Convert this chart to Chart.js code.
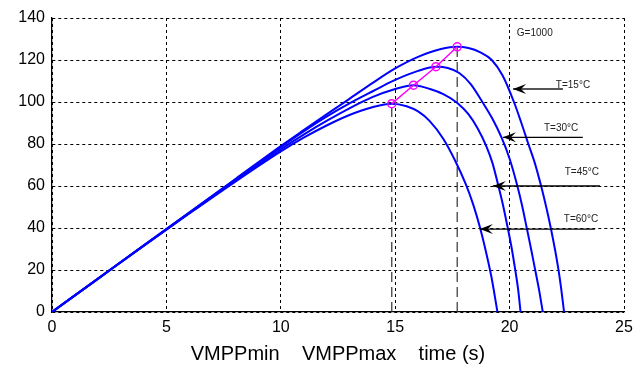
<!DOCTYPE html>
<html>
<head>
  <meta charset="UTF-8">
  <title>P-V curves</title>
  <script src="https://cdn.jsdelivr.net/npm/chart.js"></script>
  <style>
    html, body { margin: 0; padding: 0; background: #fff; }
    #wrap { width: 644px; height: 369px; }
  </style>
</head>
<body>
  <div id="wrap"><canvas id="pv"></canvas></div>

  <script>
    // P-V curves (voltage / power)
    const vT15 = [0, 2, 4, 6, 8, 10, 11, 12, 13, 14, 15, 16, 17, 17.71, 18.2, 18.7, 19.22, 19.7, 20.19, 20.5, 20.82, 21.1, 21.4, 21.6, 21.8, 22.0, 22.13, 22.25, 22.38];
    const pT15 = [0, 15.8, 31.6, 47.4, 63.2, 79, 86.6, 94.1, 101.5, 109, 116, 121.5, 125.2, 126.3, 125.7, 123.8, 120, 112.5, 100, 90.5, 80, 71, 59, 50, 40, 28.8, 20.5, 11.5, 0];

    const vT30 = [0, 2, 4, 6, 8, 10, 11, 12, 13, 14, 15, 16, 16.78, 17.3, 17.8, 18.3, 18.81, 19.25, 19.65, 20.0, 20.34, 20.55, 20.75, 20.93, 21.11, 21.28, 21.45];
    const pT30 = [0, 15.8, 31.6, 47.3, 63, 78.5, 86, 93, 99.3, 105, 110.5, 114.8, 116.8, 116.2, 113.8, 108.5, 100, 92, 83, 73, 60, 50.5, 40, 30.5, 20.5, 11, 0];

    const vT45 = [0, 2, 4, 6, 8, 10, 11, 12, 13, 14, 15, 15.8, 16.52, 17.1, 17.69, 18.2, 18.6, 18.98, 19.25, 19.51, 19.72, 19.92, 20.09, 20.24, 20.37, 20.48];
    const pT45 = [0, 15.8, 31.5, 47.1, 62.5, 77.5, 84.5, 91, 97, 102.3, 106.2, 108, 106.2, 103.8, 99.8, 94.2, 87.5, 79, 71, 60, 50.5, 40, 30.5, 20.5, 11, 0];

    const vT60 = [0, 2, 4, 6, 8, 10, 11, 12, 13, 14, 14.85, 15.5, 16, 16.5, 17.1, 17.6, 18.08, 18.4, 18.7, 18.95, 19.2, 19.47];
    const pT60 = [0, 15.8, 31.5, 46.9, 62, 76.5, 83, 88.8, 93.8, 97.5, 99.2, 98, 95.5, 91, 82.5, 72.5, 61, 51.5, 40.5, 29.5, 17, 0];

    // maximum power points
    const mppV = [14.85, 15.8, 16.78, 17.71];
    const mppP = [99.2, 108, 116.8, 126.3];

    const xTicks = [0, 5, 10, 15, 20, 25];
    const yTicks = [0, 20, 40, 60, 80, 100, 120, 140];

    // arrow labels: [text, text x, text y, arrow tip x, tail x, arrow y]
    const arrows = [
      ['T=15°C', 22.77, 108.2, 20.15, 22.33, 106.2],
      ['T=30°C', 22.25, 87.4, 19.71, 23.2, 83.2],
      ['T=45°C', 23.16, 66.4, 19.27, 23.95, 60],
      ['T=60°C', 23.12, 44.2, 18.7, 23.73, 39.5]
    ];
    const gLabel = ['G=1000', 21.1, 132.9];

    const FONT = "Arial, 'Liberation Sans', sans-serif";

    function pts(xs, ys) {
      return xs.map((x, i) => ({ x: x, y: ys[i] }));
    }

    function curve(xs, ys) {
      return {
        data: pts(xs, ys),
        borderColor: '#0000ff',
        borderWidth: 2,
        pointRadius: 0,
        showLine: true,
        cubicInterpolationMode: 'monotone',
        order: 2
      };
    }

    function vLine(x, y) {
      return {
        data: [{ x: x, y: 0 }, { x: x, y: y }],
        borderColor: '#333',
        borderWidth: 1.2,
        borderDash: [10, 5],
        pointRadius: 0,
        showLine: true,
        order: 3
      };
    }

    const notes = {
      id: 'notes',
      afterDatasetsDraw(chart) {
        const ctx = chart.ctx;
        const xs = chart.scales.x, ys = chart.scales.y;
        ctx.save();
        ctx.font = '10px ' + FONT;
        ctx.textAlign = 'center';
        ctx.textBaseline = 'middle';
        arrows.forEach((a, i) => {
          const tip = xs.getPixelForValue(a[3]);
          const tail = xs.getPixelForValue(a[4]);
          const y = ys.getPixelForValue(a[5]);
          ctx.strokeStyle = i === 0 ? '#555' : '#000';
          ctx.lineWidth = i === 0 ? 1.8 : 1.3;
          ctx.beginPath();
          ctx.moveTo(tail, y);
          ctx.lineTo(tip, y);
          ctx.stroke();
          // arrow head
          ctx.fillStyle = '#000';
          ctx.beginPath();
          ctx.moveTo(tip, y);
          ctx.lineTo(tip + 13, y - 5);
          ctx.lineTo(tip + 8, y);
          ctx.lineTo(tip + 13, y + 5);
          ctx.closePath();
          ctx.fill();
          ctx.fillStyle = '#222';
          ctx.fillText(a[0], xs.getPixelForValue(a[1]), ys.getPixelForValue(a[2]));
        });
        ctx.fillText(gLabel[0], xs.getPixelForValue(gLabel[1]), ys.getPixelForValue(gLabel[2]));
        ctx.restore();
      }
    };

    const ctx = document.getElementById('pv').getContext('2d');
    new Chart(ctx, {
      type: 'scatter',
      data: {
        datasets: [
          curve(vT15, pT15),
          curve(vT30, pT30),
          curve(vT45, pT45),
          curve(vT60, pT60),
          vLine(mppV[0], mppP[0]),
          vLine(mppV[3], mppP[3]),
          {
            data: pts(mppV, mppP),
            borderColor: '#ff00ff',
            backgroundColor: 'rgba(0,0,0,0)',
            borderWidth: 1.5,
            pointRadius: 4,
            pointBorderWidth: 1.5,
            showLine: true,
            order: 1
          }
        ]
      },
      options: {
        responsive: true,
        maintainAspectRatio: false,
        animation: false,
        layout: { padding: { top: 18, right: 20, left: 0, bottom: 0 } },
        plugins: { legend: { display: false }, tooltip: { enabled: false } },
        scales: {
          x: {
            type: 'linear',
            min: 0, max: 25,
            afterBuildTicks: s => { s.ticks = xTicks.map(v => ({ value: v })); },
            afterFit: s => { s.height = 57; },
            grid: { color: '#000', lineWidth: 1, drawTicks: false },
            border: { display: true, color: '#000', width: 1.3, dash: [3, 3] },
            ticks: { color: '#000', font: { family: FONT, size: 16 }, padding: 6, maxRotation: 0 },
            title: {
              display: true,
              text: 'VMPPmin    VMPPmax    time (s)',
              color: '#000',
              font: { family: FONT, size: 20 },
              padding: { top: 4, bottom: 3 }
            }
          },
          y: {
            type: 'linear',
            min: 0, max: 140,
            afterBuildTicks: s => { s.ticks = yTicks.map(v => ({ value: v })); },
            afterFit: s => { s.width = 52; },
            grid: { color: '#000', lineWidth: 1, drawTicks: false },
            border: { display: true, color: '#000', width: 1.3, dash: [3, 3] },
            ticks: { color: '#000', font: { family: FONT, size: 16 }, padding: 7 }
          }
        }
      },
      plugins: [notes]
    });
  </script>
</body>
</html>
